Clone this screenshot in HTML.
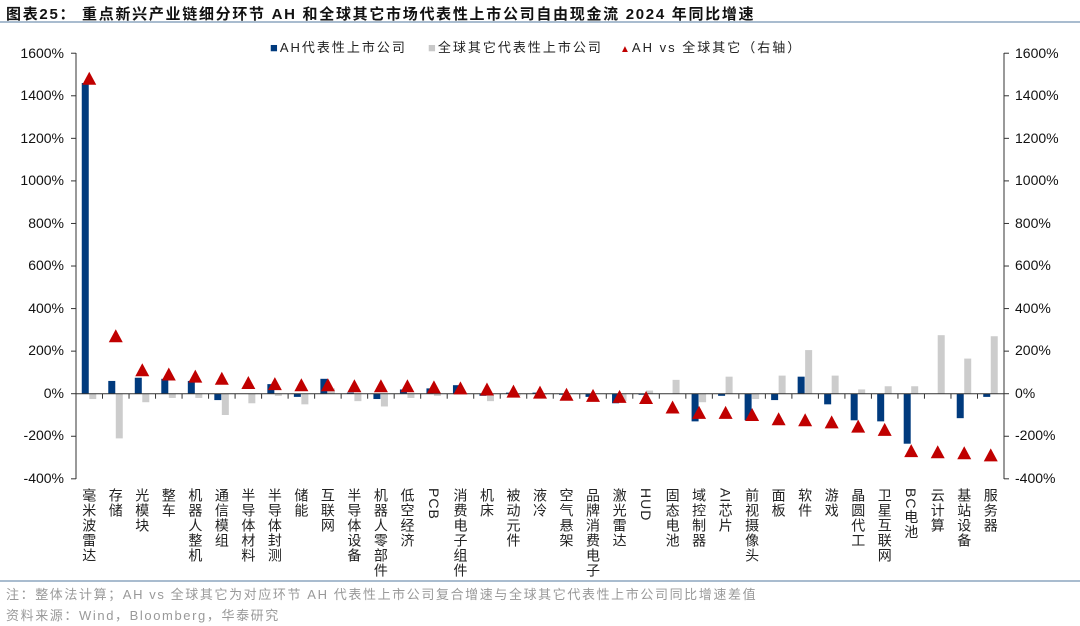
<!DOCTYPE html>
<html><head><meta charset="utf-8">
<style>
body{margin:0;width:1080px;height:626px;background:#fff;position:relative;overflow:hidden;font-family:"Liberation Sans","Noto Sans CJK SC",sans-serif;}
.title{position:absolute;left:6px;top:3px;font-size:15px;font-weight:bold;color:#111;letter-spacing:1.7px;white-space:nowrap}
.hl{position:absolute;left:0;width:1080px;height:2px;background:#a9bccf}
.yl{position:absolute;font-size:14px;color:#111;}
.xl{position:absolute;left:76px;top:488px;width:928px;display:flex}
.xl div{flex:1;display:flex;justify-content:center}
.xl span{writing-mode:vertical-rl;text-orientation:mixed;font-size:14px;line-height:14px;color:#222;letter-spacing:1px}
.leg{position:absolute;top:37px;font-size:13px;color:#222;white-space:nowrap;letter-spacing:2px}
.note{position:absolute;left:6px;font-size:13px;color:#999;white-space:nowrap;letter-spacing:1.6px}
</style></head><body>
<div class="title">图表25：  重点新兴产业链细分环节 AH 和全球其它市场代表性上市公司自由现金流 2024 年同比增速</div>
<div class="hl" style="top:21px"></div>
<div class="leg" style="left:270px"><span style="color:#003a7d">■</span>AH代表性上市公司</div>
<div class="leg" style="left:428px"><span style="color:#c8c8c8">■</span>全球其它代表性上市公司</div>
<div class="leg" style="left:620px"><span style="color:#c00000;font-size:10px">▲</span>AH vs 全球其它（右轴）</div>
<svg id="c" width="1080" height="626" style="position:absolute;left:0;top:0"></svg>
<div class="xl">
<div><span>毫米波雷达</span></div><div><span>存储</span></div><div><span>光模块</span></div><div><span>整车</span></div><div><span>机器人整机</span></div><div><span>通信模组</span></div><div><span>半导体材料</span></div><div><span>半导体封测</span></div><div><span>储能</span></div><div><span>互联网</span></div><div><span>半导体设备</span></div><div><span>机器人零部件</span></div><div><span>低空经济</span></div><div><span>PCB</span></div><div><span>消费电子组件</span></div><div><span>机床</span></div><div><span>被动元件</span></div><div><span>液冷</span></div><div><span>空气悬架</span></div><div><span>品牌消费电子</span></div><div><span>激光雷达</span></div><div><span>HUD</span></div><div><span>固态电池</span></div><div><span>域控制器</span></div><div><span>AI芯片</span></div><div><span>前视摄像头</span></div><div><span>面板</span></div><div><span>软件</span></div><div><span>游戏</span></div><div><span>晶圆代工</span></div><div><span>卫星互联网</span></div><div><span>BC电池</span></div><div><span>云计算</span></div><div><span>基站设备</span></div><div><span>服务器</span></div>
</div>
<div class="yl" style="left:14px;top:45px;width:50px;text-align:right">1600%</div>
<div class="yl" style="left:14px;top:87px;width:50px;text-align:right">1400%</div>
<div class="yl" style="left:14px;top:130px;width:50px;text-align:right">1200%</div>
<div class="yl" style="left:14px;top:172px;width:50px;text-align:right">1000%</div>
<div class="yl" style="left:14px;top:215px;width:50px;text-align:right">800%</div>
<div class="yl" style="left:14px;top:257px;width:50px;text-align:right">600%</div>
<div class="yl" style="left:14px;top:300px;width:50px;text-align:right">400%</div>
<div class="yl" style="left:14px;top:342px;width:50px;text-align:right">200%</div>
<div class="yl" style="left:14px;top:385px;width:50px;text-align:right">0%</div>
<div class="yl" style="left:14px;top:427px;width:50px;text-align:right">-200%</div>
<div class="yl" style="left:14px;top:470px;width:50px;text-align:right">-400%</div>
<div class="yl" style="left:1015px;top:45px">1600%</div>
<div class="yl" style="left:1015px;top:87px">1400%</div>
<div class="yl" style="left:1015px;top:130px">1200%</div>
<div class="yl" style="left:1015px;top:172px">1000%</div>
<div class="yl" style="left:1015px;top:215px">800%</div>
<div class="yl" style="left:1015px;top:257px">600%</div>
<div class="yl" style="left:1015px;top:300px">400%</div>
<div class="yl" style="left:1015px;top:342px">200%</div>
<div class="yl" style="left:1015px;top:385px">0%</div>
<div class="yl" style="left:1015px;top:427px">-200%</div>
<div class="yl" style="left:1015px;top:470px">-400%</div>
<div class="hl" style="top:580px"></div>
<div class="note" style="top:584px">注：整体法计算；AH vs  全球其它为对应环节 AH 代表性上市公司复合增速与全球其它代表性上市公司同比增速差值</div>
<div class="note" style="top:605px">资料来源：Wind，Bloomberg，华泰研究</div>
<script>
var A=[1460,60,75,70,60,-30,0,45,-15,70,5,-25,20,25,40,-10,5,5,-5,-15,-45,-5,0,-130,-10,-125,-30,80,-50,-125,-130,-235,0,-115,-15];
var G=[-25,-210,-40,-20,-20,-100,-45,-10,-50,25,-35,-60,-20,-10,0,-35,-10,-5,0,0,-35,15,65,-40,80,-25,85,205,85,20,35,35,275,165,270];
var T=[1480,270,110,90,80,70,50,45,40,40,35,35,35,30,25,20,10,5,-5,-10,-15,-20,-65,-90,-90,-100,-120,-125,-135,-155,-170,-270,-275,-280,-290];
function y(v){return 393.7-v*0.2128}
var s='',L=76,R=1004,w=(R-L)/35;
for(var i=0;i<35;i++){var c=L+w*(i+0.5);
 var a=y(A[i]),z=y(0);s+='<rect x="'+(c-7.5)+'" y="'+Math.min(a,z)+'" width="7" height="'+Math.abs(a-z)+'" fill="#003a7d"/>';
 var g=y(G[i]);s+='<rect x="'+(c)+'" y="'+Math.min(g,z)+'" width="7" height="'+Math.abs(g-z)+'" fill="#cccccc"/>';}
s+='<line x1="'+L+'" y1="53" x2="'+L+'" y2="479" stroke="#333"/><line x1="'+R+'" y1="53" x2="'+R+'" y2="479" stroke="#333"/>';
s+='<line x1="'+L+'" y1="393.7" x2="'+R+'" y2="393.7" stroke="#333"/>';
for(var k=0;k<=10;k++){var yy=y(1600-200*k);s+='<line x1="'+(L-5)+'" y1="'+yy+'" x2="'+L+'" y2="'+yy+'" stroke="#333"/><line x1="'+R+'" y1="'+yy+'" x2="'+(R+5)+'" y2="'+yy+'" stroke="#333"/>';}
for(var i=0;i<=35;i++){var xx=L+w*i;s+='<line x1="'+xx+'" y1="393.7" x2="'+xx+'" y2="398.7" stroke="#333"/>';}
for(var i=0;i<35;i++){var c=L+w*(i+0.5),t=y(T[i]);s+='<polygon points="'+(c-7)+','+(t+6)+' '+(c+7)+','+(t+6)+' '+c+','+(t-7)+'" fill="#c00000"/>';}
document.getElementById('c').innerHTML=s;
</script>
</body></html>
